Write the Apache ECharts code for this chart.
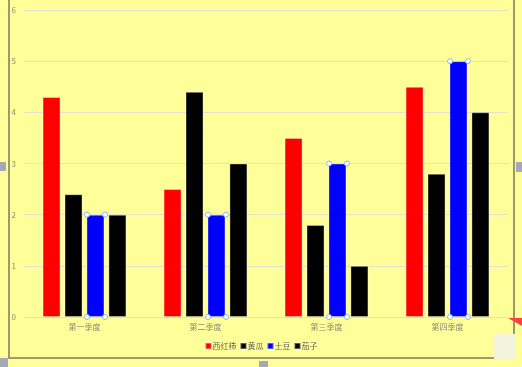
<!DOCTYPE html>
<html><head><meta charset="utf-8">
<script src="https://cdn.jsdelivr.net/npm/echarts@6/dist/echarts.min.js"></script>
<style>html,body{margin:0;padding:0;background:#FFFF99;}#c{width:522px;height:367px;}</style>
</head><body><div id="c"></div>
<script>
var categories = ['第一季度','第二季度','第三季度','第四季度'];
var seriesNames = ['西红柿','黄瓜','土豆','茄子'];
var tomato = [4.3, 2.5, 3.5, 4.5];
var cucumber = [2.4, 4.4, 1.8, 2.8];
var potato = [2, 2, 3, 5];
var eggplant = [2, 3, 1, 4];
var yTicks = [0,1,2,3,4,5,6];
var colors = ['#FF0000','#000000','#0000FF','#000000'];

var chart = echarts.init(document.getElementById('c'));
var lbl = {color:'#8a8a7a', fontSize:8, fontFamily:'Noto Sans CJK SC'};
function bar(name, data, color){
  return {name:name, type:'bar', data:data, barWidth:18, barGap:'22%',
    itemStyle:{color:color, borderColor:'rgba(255,255,255,0.35)', borderWidth:1}};
}
var handleSeries = {
  type:'custom', silent:true, z:5, data: potato.map(function(v,i){return [i,v];}),
  renderItem:function(params, api){
    var top = api.coord([api.value(0), api.value(1)]);
    var bot = api.coord([api.value(0), 0]);
    var cx = top[0] + 11.5;
    var pts = [[cx-9,top[1]],[cx+9,top[1]],[cx-9,bot[1]],[cx+9,bot[1]]];
    return {type:'group', children: pts.map(function(p){
      return {type:'circle', shape:{cx:p[0], cy:p[1], r:2.5}, style:{fill:'#ffffff', stroke:'#8fb8e0', lineWidth:1}};
    })};
  }
};
chart.setOption({
  backgroundColor:'#FFFF99',
  animation:false,
  grid:{left:24, right:14, top:10, bottom:50},
  legend:{bottom:12, left:'center', itemWidth:6, itemHeight:6, itemGap:3, icon:'rect',
    textStyle:{color:'#666655', fontSize:8, fontFamily:'Noto Sans CJK SC', padding:[0,0,0,-4]},
    data:seriesNames.map(function(n,i){return {name:n, itemStyle:{color:colors[i]}};})},
  xAxis:{type:'category', data:categories,
    axisLine:{lineStyle:{color:'#e4e0c8'}}, axisTick:{show:false},
    axisLabel:Object.assign({margin:6}, lbl)},
  yAxis:{type:'value', min:0, max:6, interval:1,
    axisLine:{show:false}, axisTick:{show:false},
    axisLabel:Object.assign({margin:8, formatter:function(v){return yTicks.indexOf(v)>=0?String(v):'';}}, lbl),
    splitLine:{lineStyle:{color:'#e4e0d0'}}},
  series:[bar(seriesNames[0],tomato,colors[0]), bar(seriesNames[1],cucumber,colors[1]),
          bar(seriesNames[2],potato,colors[2]), bar(seriesNames[3],eggplant,colors[3]), handleSeries],
  graphic:[
    {type:'rect', shape:{x:9, y:-5, width:505, height:363}, style:{fill:'none', stroke:'#9c9a6c', lineWidth:2}, z:10},
    {type:'rect', shape:{x:0, y:162, width:6, height:9}, style:{fill:'#a6a8b8'}, z:11},
    {type:'rect', shape:{x:516, y:162, width:6, height:10}, style:{fill:'#a6a8b8'}, z:11},
    {type:'rect', shape:{x:259, y:361, width:9, height:6}, style:{fill:'#a6a8b8'}, z:11},
    {type:'rect', shape:{x:0, y:358, width:8, height:9}, style:{fill:'#a6a8b8'}, z:11},
    {type:'polygon', shape:{points:[[508,318],[522,318],[522,326]]}, style:{fill:'#ff4040'}, z:11},
    {type:'rect', shape:{x:494, y:334, width:22, height:26}, style:{fill:'#f4f4dc'}, z:11}
  ]
});
</script></body></html>
